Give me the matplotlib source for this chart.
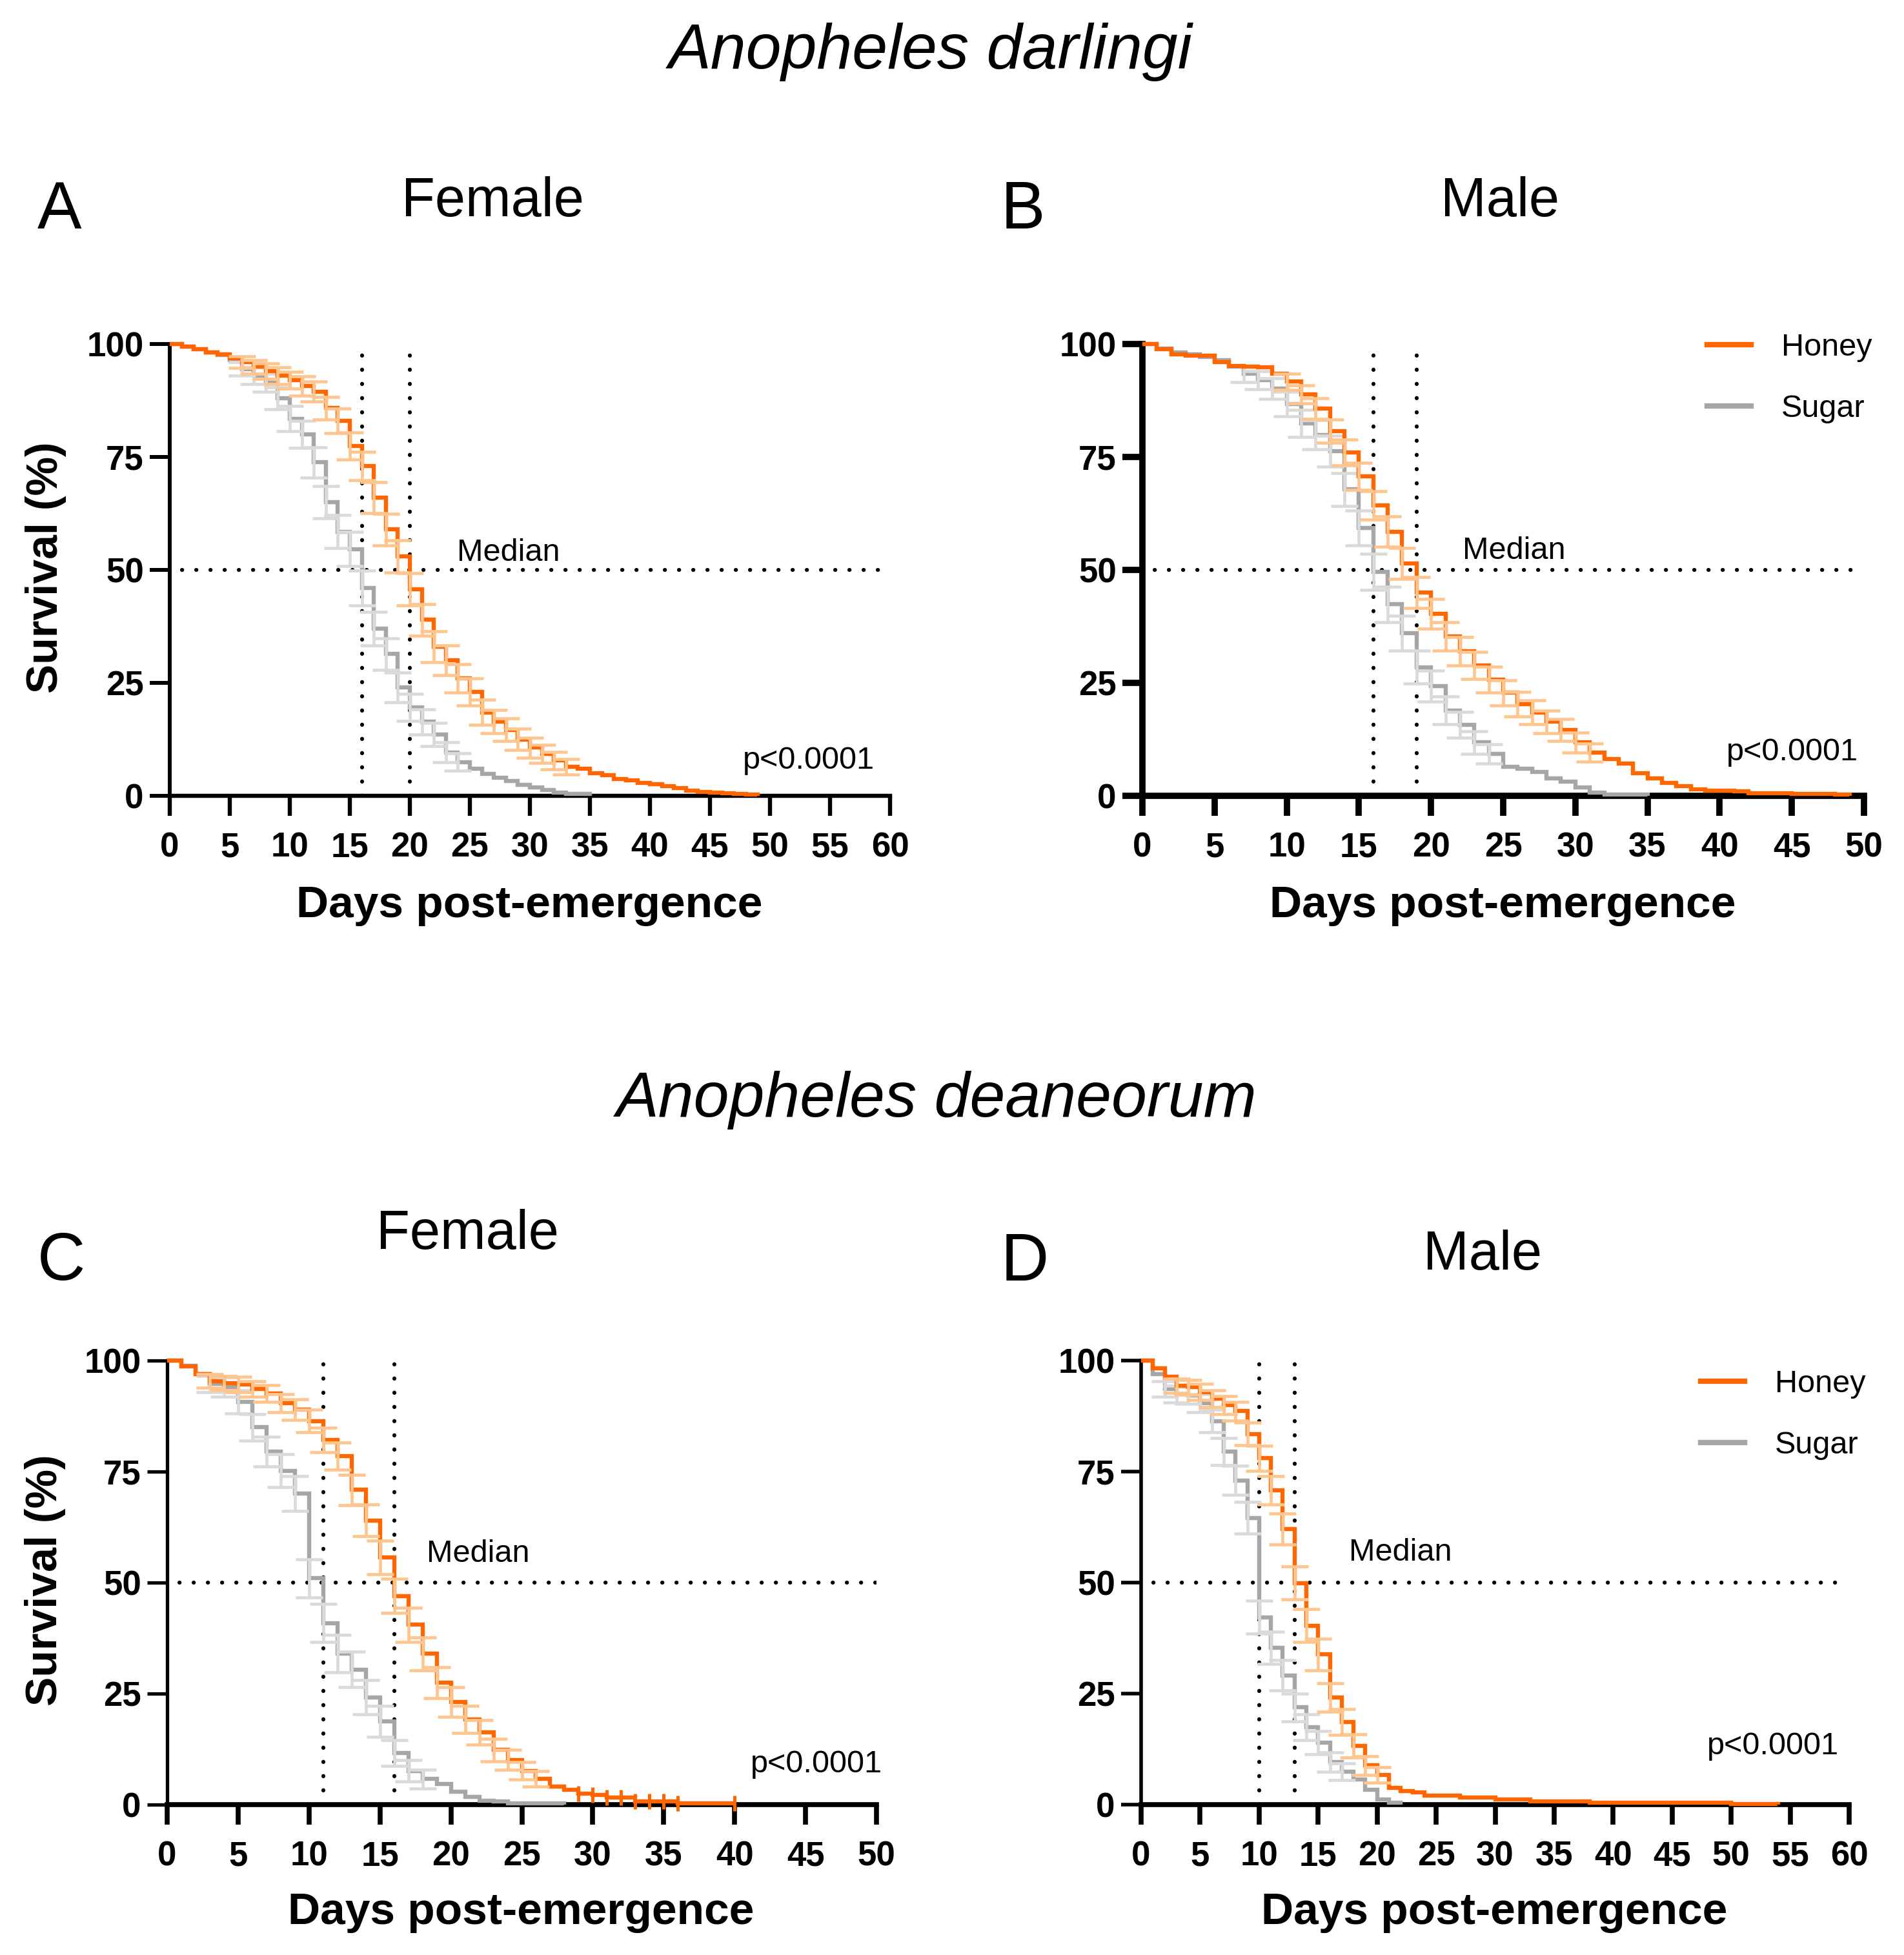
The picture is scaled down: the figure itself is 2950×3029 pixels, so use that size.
import numpy as np
import matplotlib.pyplot as plt

plt.rcParams['font.family'] = ['Liberation Sans', 'DejaVu Sans']

# colours
HONEY = '#FF6600'
HONEY_LT = '#FFC58F'
SUGAR = '#A6A6A6'
SUGAR_LT = '#DADADA'

# ---- data (survival %, one value per day starting at day 0) ----
# A: An. darlingi female
a_honey = [100, 99.5, 98.8, 98.2, 97.7, 96.8, 96, 95, 94, 93, 92, 90.7, 89.5, 85.8, 83, 77.4, 73, 66, 59, 53,
           45.7, 39, 33, 30, 26, 23, 18.5, 16.4, 14.6, 12.5, 10.7, 9.3, 7.8, 6.4, 6.0, 5.0, 4.6, 3.7, 3.4, 2.9,
           2.6, 2.1, 1.7, 1.1, 0.9, 0.7, 0.6, 0.5, 0.3, 0]
a_honey_err = [0, 0, 0, 0, 0, 0, 1.3, 1.5, 1.7, 1.8, 1.9, 2.1, 2.2, 2.5, 2.7, 3.0, 3.2, 3.4, 3.5, 3.6,
               3.6, 3.5, 3.4, 3.3, 3.1, 3.0, 2.8, 2.6, 2.5, 2.3, 2.2, 2.0, 1.9, 1.7] + [0] * 16
a_sugar = [100, 99.4, 98.8, 98.2, 97.6, 96.5, 94.5, 93, 91.5, 88, 83.5, 80, 73.8, 65, 58.5, 54.6, 46, 37, 31.4, 24,
           19.6, 16.4, 13.6, 9.6, 7.5, 6.0, 4.9, 4.0, 3.3, 2.5, 1.8, 1.3, 0.7, 0.5, 0.4, 0]
a_sugar_err = [0, 0, 0, 0, 0, 0, 1.5, 1.8, 2.0, 2.4, 2.8, 3.0, 3.3, 3.6, 3.7, 3.8, 3.8, 3.7, 3.5, 3.3,
               3.0, 2.8, 2.6, 2.2, 1.9] + [0] * 11

# B: An. darlingi male
b_honey = [100, 98.9, 97.7, 97.4, 97.4, 96, 95.2, 95, 94.8, 93.5, 91.7, 88.9, 85.7, 80.7, 76, 70.7, 64.3, 58.5, 51.4, 45,
           40.3, 35.3, 32, 28.9, 25.7, 22.8, 20.3, 18.5, 16.4, 14.6, 11.8, 9.6, 8.2, 7.1, 5.0, 3.9, 2.9, 2.1, 1.4, 1.1,
           1.1, 1.0, 0.6, 0.6, 0.6, 0.5, 0.5, 0.4, 0.3, 0]
b_honey_err = [0] * 10 + [1.8, 2.0, 2.3, 2.6, 2.8, 3.0, 3.2, 3.3, 3.4, 3.4, 3.3, 3.2, 3.1, 3.0, 2.9, 2.8,
                          2.7, 2.6, 2.5, 2.4, 2.2, 2.0] + [0] * 18
b_sugar = [100, 99, 98.2, 97.7, 97.2, 96.5, 95, 93.4, 92, 90.2, 86.7, 82.4, 79.9, 76.3, 67.8, 59.3, 49.6, 42.4, 36, 28.5,
           24.3, 18.9, 15.7, 11.8, 9.3, 6.4, 6.0, 5.3, 3.9, 3.2, 1.8, 0.7, 0.35, 0.35, 0.35, 0]
b_sugar_err = [0] * 7 + [1.8, 2.0, 2.3, 2.7, 3.0, 3.2, 3.4, 3.7, 3.9, 4.0, 3.9, 3.8, 3.6, 3.4, 3.1, 2.9,
                         2.5, 2.2] + [0] * 11

# C: An. deaneorum female
c_honey = [100, 98.7, 96.9, 95.4, 94.9, 94.6, 93.6, 92.6, 90.4, 89, 86.4, 82.1, 78.5, 70.9, 64, 55.7, 47, 40.5, 34, 27.5,
           23.1, 19.2, 16.3, 12.3, 10.1, 7.6, 5.8, 4.0, 3.3, 2.5, 2.2, 1.6, 1.6, 0.7, 0.7, 0.7, 0.25, 0.25, 0.25, 0.25,
           0.25]
c_honey_err = [0, 0, 0, 1.5, 1.6, 1.7, 1.8, 1.9, 2.1, 2.3, 2.5, 2.8, 3.0, 3.4, 3.6, 3.8, 3.8, 3.8, 3.7, 3.5,
               3.3, 3.0, 2.8, 2.5, 2.2, 2.0, 1.7] + [0] * 14
c_honey_cens = [29, 30, 31, 32, 33, 34, 35, 36, 40]
c_sugar = [100, 98.9, 96.9, 94.7, 94, 90.7, 85, 79.5, 75.2, 70.1, 51, 40.9, 34, 30.4, 24.2, 18.8, 11.6, 7.6, 5.8, 4.7,
           2.9, 1.8, 0.9, 0.7, 0.3, 0.3, 0.3, 0.3, 0]
c_sugar_err = [0, 0, 0, 1.8, 2.2, 2.6, 3.0, 3.4, 3.7, 3.9, 4.3, 4.3, 4.2, 4.0, 3.8, 3.5, 2.9, 2.4, 2.1] + [0] * 10

# D: An. deaneorum male
d_honey = [100, 98.3, 96.3, 94.3, 94, 92.9, 91.4, 90, 88.6, 83.5, 78, 70.8, 62.1, 49.9, 40.3, 33.8, 24.1, 18.6, 13.2, 8.8,
           6.7, 3.8, 3.0, 2.7, 2.1, 2.0, 2.0, 1.6, 1.6, 1.6, 1.2, 1.2, 1.2, 0.7, 0.7, 0.7, 0.7, 0.7, 0.4, 0.4,
           0.4, 0.4, 0.4, 0.4, 0.4, 0.4, 0.4, 0.4, 0.4, 0.4, 0.15, 0.15, 0.15, 0.15, 0]
d_honey_err = [0, 0, 0, 1.6, 1.7, 1.8, 1.9, 2.0, 2.1, 2.5, 2.8, 3.2, 3.5, 3.7, 3.7, 3.6, 3.2, 2.9, 2.6, 2.1,
               1.8] + [0] * 34
d_sugar = [100, 96.9, 93.6, 92.5, 92.2, 90.4, 86.4, 79.5, 73, 64.6, 42.2, 35.3, 29.1, 21.9, 17.5, 13.9, 9.6, 7.4, 5.6, 3.4,
           1.2, 0.4, 0]
d_sugar_err = [0, 0, 1.8, 1.9, 1.9, 2.1, 2.5, 3.0, 3.3, 3.6, 3.7, 3.6, 3.4, 3.1, 2.9, 2.6, 2.2, 1.9] + [0] * 5

# median survival (days): sugar, honey
a_median = [16, 20]
b_median = [16, 19]
c_median = [11, 16]
d_median = [10, 13]

x_max = [60, 50, 50, 60]
yticks = [0, 25, 50, 75, 100]

W, H = 2950, 3029
fig = plt.figure(figsize=(W / 100, H / 100), dpi=100)


def px_axes(left, right, top, bottom):
    return fig.add_axes([left / W, 1 - bottom / H, (right - left) / W, (bottom - top) / H])


def draw_curve(ax, vals, err, color, color_lt, z):
    days = np.arange(len(vals))
    vals = np.array(vals, dtype=float)
    err = np.array(err, dtype=float)
    ax.step(days, vals, where='post', color=color, lw=4.6, zorder=z, clip_on=False,
            solid_joinstyle='miter', solid_capstyle='butt')
    m = err > 0
    ax.errorbar(days[m], vals[m], yerr=err[m], fmt='none', ecolor=color_lt,
                elinewidth=3.4, capsize=15, capthick=3.4, zorder=z + 0.5)
    return days, vals


def panel(ax, honey, honey_err, sugar, sugar_err, medians, xmax, spine_l, spine_b,
          med_xy, p_xy, legend_anchor=None):
    for v in medians:
        ax.plot([v, v], [0, 100], color='black', lw=4.4, ls=(0, (0.05, 3.55)),
                dash_capstyle='round', zorder=1.5)
    ax.plot([0.017 * xmax, xmax], [50, 50], color='black', lw=4.4, ls=(0, (0.05, 3.55)),
            dash_capstyle='round', zorder=1.5)

    ds, vs = draw_curve(ax, sugar, sugar_err, SUGAR, SUGAR_LT, 3)
    dh, vh = draw_curve(ax, honey, honey_err, HONEY, HONEY_LT, 4)
    hline = plt.Line2D([], [], color=HONEY, lw=6)
    sline = plt.Line2D([], [], color=SUGAR, lw=6)

    ax.text(med_xy[0], med_xy[1], 'Median', fontsize=35, ha='left', va='baseline')
    ax.text(p_xy[0], p_xy[1], 'p<0.0001', fontsize=35, ha='right', va='baseline', clip_on=False)

    ax.set_xlim(0, xmax)
    ax.set_ylim(0, 100)
    ax.set_xticks(np.arange(0, xmax + 1, 5))
    ax.set_yticks(yticks)
    for s in ['top', 'right']:
        ax.spines[s].set_visible(False)
    ax.spines['left'].set_linewidth(spine_l)
    ax.spines['bottom'].set_linewidth(spine_b)
    ax.tick_params(axis='x', direction='out', length=22, width=spine_b, pad=18,
                   labelsize=38)
    ax.tick_params(axis='y', direction='out', length=22, width=spine_l, pad=7,
                   labelsize=38)
    for lab in ax.get_xticklabels() + ax.get_yticklabels():
        lab.set_fontweight('bold')

    ax.set_xlabel('Days post-emergence', fontsize=50, fontweight='bold')
    ax.xaxis.label.set_va('center')
    ax.xaxis.set_label_coords(0.499, -0.243)
    ax.set_ylabel('Survival (%)', fontsize=49, fontweight='bold')
    ax.yaxis.label.set_va('center')
    ax.yaxis.set_label_coords(-0.172, 0.505)

    if legend_anchor is not None:
        ax.legend([hline, sline], ['Honey', 'Sugar'], loc='upper right',
                  bbox_to_anchor=legend_anchor, frameon=False, fontsize=35,
                  handlelength=1.4, handletextpad=0.95, labelspacing=1.03,
                  borderpad=0, borderaxespad=0)
    return dh, vh


axA = px_axes(263, 1379, 533, 1233)
panel(axA, a_honey, a_honey_err, a_sugar, a_sugar_err, a_median, x_max[0], 4.3, 4.6,
      (23.9, 52), (58.7, 6))

axB = px_axes(1770, 2888, 533, 1233)
panel(axB, b_honey, b_honey_err, b_sugar, b_sugar_err, b_median, x_max[1], 7.0, 7.0,
      (22.2, 52.5), (49.6, 7.8), legend_anchor=(1.011, 1.024))
axB.set_ylabel('')

axC = px_axes(259, 1358, 2108, 2796)
dh, vh = panel(axC, c_honey, c_honey_err, c_sugar, c_sugar_err, c_median, x_max[2], 3.8, 5.5,
               (18.3, 54.6), (50.4, 7.2))
cens = np.array(c_honey_cens)
axC.plot(cens, vh[cens], ls='none', marker='|', ms=17, mew=3.6, color=HONEY, zorder=5, clip_on=False)

axD = px_axes(1768, 2865, 2108, 2796)
panel(axD, d_honey, d_honey_err, d_sugar, d_sugar_err, d_median, x_max[3], 4.0, 5.5,
      (17.6, 54.9), (59.1, 11.4), legend_anchor=(1.023, 0.98))
axD.set_ylabel('')

# titles
fig.text(1442 / W, 1 - 81 / H, 'Anopheles darlingi', fontsize=71, style='italic', ha='center', va='center')
fig.text(1451 / W, 1 - 1704 / H, 'Anopheles deaneorum', fontsize=71, style='italic', ha='center', va='center')
fig.text(763 / W, 1 - 313 / H, 'Female', fontsize=61, ha='center', va='center')
fig.text(2324 / W, 1 - 313 / H, 'Male', fontsize=61, ha='center', va='center')
fig.text(724 / W, 1 - 1913 / H, 'Female', fontsize=61, ha='center', va='center')
fig.text(2297 / W, 1 - 1945 / H, 'Male', fontsize=61, ha='center', va='center')
for letter, lx, ly in [('A', 58, 328), ('B', 1551, 328), ('C', 58, 1957), ('D', 1551, 1957)]:
    fig.text(lx / W, 1 - ly / H, letter, fontsize=74, ha='left', va='center')

fig.savefig('out.png', dpi=100)
